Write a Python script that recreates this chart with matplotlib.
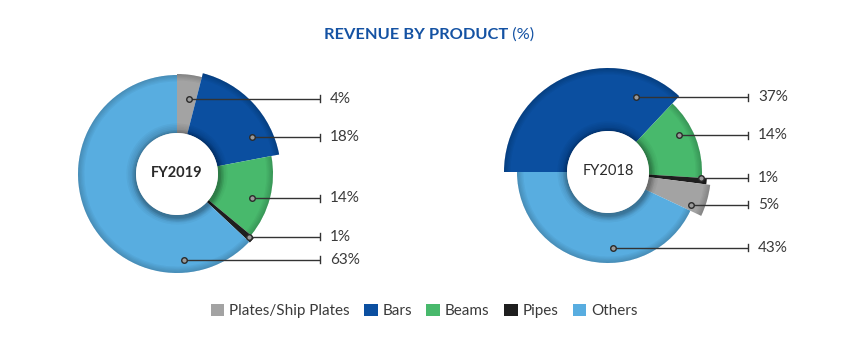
import math
import matplotlib
matplotlib.use("Agg")
import matplotlib.pyplot as plt
from matplotlib.patches import Wedge, Circle, Patch

# ---------------- data ----------------
products = ["Plates/Ship Plates", "Bars", "Beams", "Pipes", "Others"]
fy2019_order = ["Plates/Ship Plates", "Bars", "Beams", "Pipes", "Others"]
fy2019_values = [4, 18, 14, 1, 63]
fy2018_order = ["Bars", "Beams", "Pipes", "Plates/Ship Plates", "Others"]
fy2018_values = [37, 14, 1, 5, 43]
label_2019 = "FY2019"
label_2018 = "FY2018"
title_main = "REVENUE BY PRODUCT"
title_unit = " (%)"

# ---------------- style ----------------
colors = {"Plates/Ship Plates": "#a3a3a3", "Bars": "#0b4fa0",
          "Beams": "#48b96c", "Pipes": "#1e1e1e", "Others": "#58ade0"}
radii_2019 = {"Plates/Ship Plates": 100, "Bars": 104, "Beams": 96, "Pipes": 100, "Others": 99}
radii_2018 = {"Bars": 104, "Beams": 94, "Pipes": 99, "Plates/Ship Plates": 103, "Others": 91}
# label anchor (angle in degrees, radius in px) for each wedge
anchors_2019 = [(81, 76), (26, 84), (-18, 79), (-41, 96), (-85, 86)]
anchors_2018 = [(69.5, 80), (27.5, 80), (-3.5, 93), (-21.7, 89), (-86, 76)]
W, H = 861, 347
hole_r = 41
text_col = "#3a3a3a"
title_col = "#1452a3"
FONT = ["Lato", "DejaVu Sans"]

fig = plt.figure(figsize=(W / 100, H / 100), dpi=100)
ax = fig.add_axes([0, 0, 1, 1])


def draw_donut(order, values, radii, anchors, center, start, line_end, center_label, bold):
    cx, cy = center
    wedges, _ = ax.pie(values, startangle=start, counterclock=False,
                       colors=[colors[p] for p in order], center=center, radius=1,
                       wedgeprops=dict(linewidth=0))
    for w, p in zip(wedges, order):
        r = radii[p]
        w.set_radius(r)
        w.set_width(r - hole_r)
        t1, t2 = w.theta1, w.theta2
        # outer-rim shading (bevel look)
        for k in range(1, 6):
            ax.add_patch(Wedge((cx, cy), r, t1, t2, width=k * 1.3,
                               facecolor="black", alpha=0.035, linewidth=0, zorder=2))
        # inner shading near the hole
        for k in range(1, 7):
            ax.add_patch(Wedge((cx, cy), hole_r + k * 1.6, t1, t2, width=k * 1.6,
                               facecolor="black", alpha=0.03, linewidth=0, zorder=2))
    # hole with soft shadow
    for k, a in [(5, 0.05), (3.5, 0.06), (2, 0.08)]:
        ax.add_patch(Circle((cx + 1, cy - 2), hole_r + k, facecolor="black",
                            alpha=a, linewidth=0, zorder=3))
    ax.add_patch(Circle((cx, cy), hole_r, facecolor="white", linewidth=0, zorder=4))
    ax.text(cx, cy + 1, center_label, ha="center", va="center", fontsize=10.5,
            fontweight="bold" if bold else "normal", color="#2a2a2a",
            family=FONT, zorder=5)
    # labels
    for v, (ang, rr) in zip(values, anchors):
        x = cx + rr * math.cos(math.radians(ang))
        y = cy + rr * math.sin(math.radians(ang))
        ax.plot([x, line_end], [y, y], color="#333333", lw=1.0, zorder=6,
                solid_capstyle="butt")
        ax.plot([line_end, line_end], [y - 3.5, y + 3.5], color="#333333", lw=1.0, zorder=6)
        ax.plot([x], [y], marker="o", ms=4.0, mfc="#9a9a9a", mec="#2a2a2a",
                mew=1.0, zorder=7)
        ax.text(line_end + 10, y, f"{v}%", ha="left", va="center", fontsize=11,
                color=text_col, family=FONT, zorder=7)


draw_donut(fy2019_order, fy2019_values, radii_2019, anchors_2019,
           (177, H - 174), 90, 320, label_2019, True)
draw_donut(fy2018_order, fy2018_values, radii_2018, anchors_2018,
           (608, H - 172), 180, 748, label_2018, False)

ax.set_xlim(0, W)
ax.set_ylim(0, H)
ax.set_aspect("equal")
ax.axis("off")

# title
t1 = ax.text(0, 0, title_main, fontsize=11.8, fontweight="bold", color=title_col,
             family=FONT, ha="left", va="center")
t2 = ax.text(0, 0, title_unit, fontsize=11.8, color=title_col, family=FONT,
             ha="left", va="center")
fig.canvas.draw()
r = fig.canvas.get_renderer()
w1 = t1.get_window_extent(r).width
w2 = t2.get_window_extent(r).width
x0 = 429 - (w1 + w2) / 2
t1.set_position((x0, H - 35))
t2.set_position((x0 + w1, H - 35))

# legend
handles = [Patch(facecolor=colors[p], edgecolor="none") for p in products]
leg = fig.legend(handles, products, loc="center", bbox_to_anchor=(424 / W, 1 - 311 / H),
                 ncol=5, frameon=False, handlelength=0.9, handleheight=0.9,
                 handletextpad=0.3, columnspacing=0.95,
                 prop={"family": FONT, "size": 11})
for txt in leg.get_texts():
    txt.set_color(text_col)

fig.savefig("out.png", dpi=100, facecolor="white")
